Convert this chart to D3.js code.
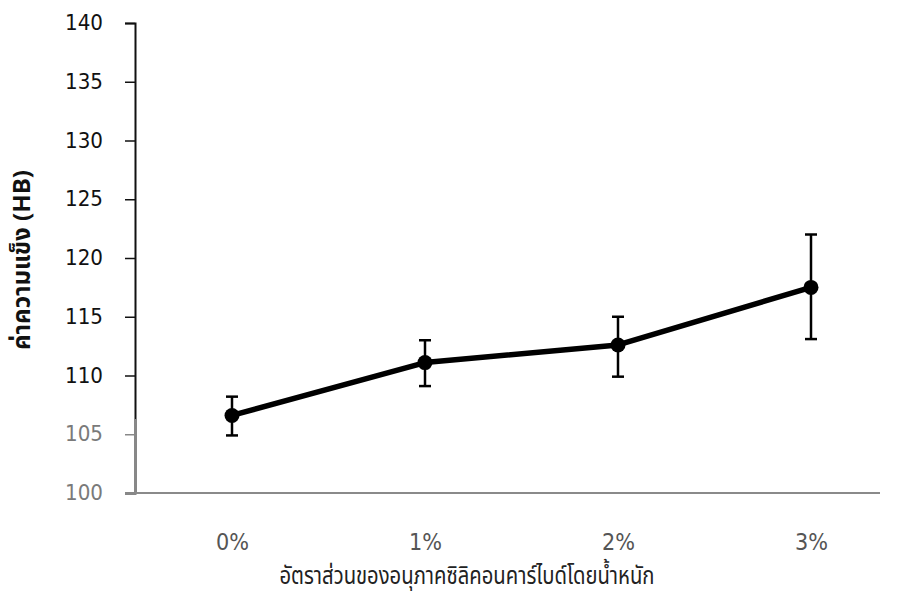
<!DOCTYPE html>
<html>
<head>
<meta charset="utf-8">
<script src="https://cdn.jsdelivr.net/npm/d3@7/dist/d3.min.js"></script>
<style>
  html, body { margin: 0; padding: 0; background: #fff; }
  svg { display: block; }
</style>
</head>
<body>
<svg id="chart" width="899" height="595"></svg>
<script>
const categories = ["0%", "1%", "2%", "3%"];
const hardness = [106.6, 111.1, 112.6, 117.5];
const errLow = [104.9, 109.1, 109.9, 113.1];
const errHigh = [108.2, 113.0, 115.0, 122.0];
const yTicks = [100, 105, 110, 115, 120, 125, 130, 135, 140];
const yTitle = "ค่าความแข็ง (HB)";
const xTitle = "อัตราส่วนของอนุภาคซิลิคอนคาร์ไบด์โดยน้ำหนัก";

(function () {
const data = categories.map((c, i) => ({ c, v: hardness[i], lo: errLow[i], hi: errHigh[i] }));

const svg = d3.select("#chart");
const mLeft = 135, mRight = 880, mTop = 23, mBottom = 493;

const x = d3.scalePoint().domain(categories).range([232, 811]);
const y = d3.scaleLinear().domain([100, 140]).range([mBottom, mTop]);

const numFont = "'DejaVu Sans', sans-serif";
const thaiFont = "'Noto Sans Thai', 'Noto Sans', 'Noto Sans CJK SC', sans-serif";

// y axis
const yAxis = svg.append("g")
  .attr("transform", `translate(${mLeft},0)`)
  .call(d3.axisLeft(y).tickValues(yTicks).tickSize(10).tickPadding(22).tickFormat(d3.format("d")));
yAxis.select(".domain").attr("stroke", "#111").attr("stroke-width", 2);
yAxis.append("line").attr("x1", 0).attr("x2", 0)
  .attr("y1", y(106.3)).attr("y2", y(100))
  .attr("stroke", "#888").attr("stroke-width", 2);
yAxis.selectAll(".tick line").attr("stroke", "#111").attr("stroke-width", 1.5);
yAxis.selectAll(".tick text")
  .attr("font-family", numFont)
  .attr("font-size", 21)
  .attr("textLength", 38)
  .attr("lengthAdjust", "spacingAndGlyphs")
  .attr("fill", d => d <= 105 ? "#7a7a7a" : "#111");
yAxis.selectAll(".tick").filter(d => d <= 105).select("line").attr("stroke", "#888");

// x axis line (no ticks)
const xAxis = svg.append("g")
  .attr("transform", `translate(0,${mBottom})`)
  .call(d3.axisBottom(x).tickSize(0).tickPadding(41));
xAxis.select(".domain").remove();
xAxis.append("line").attr("x1", mLeft).attr("x2", mRight).attr("y1", 0).attr("y2", 0)
  .attr("stroke", "#8a8a8a").attr("stroke-width", 2);
xAxis.selectAll(".tick text")
  .attr("font-family", numFont)
  .attr("font-size", 23)
  .attr("textLength", 33)
  .attr("lengthAdjust", "spacingAndGlyphs")
  .attr("fill", "#555");

// line
svg.append("path")
  .datum(data)
  .attr("fill", "none")
  .attr("stroke", "#000")
  .attr("stroke-width", 5.5)
  .attr("stroke-linejoin", "round")
  .attr("d", d3.line().x(d => x(d.c)).y(d => y(d.v)));

// error bars
const eb = svg.append("g").selectAll("g").data(data).join("g");
eb.append("line")
  .attr("x1", d => x(d.c)).attr("x2", d => x(d.c))
  .attr("y1", d => y(d.lo)).attr("y2", d => y(d.hi))
  .attr("stroke", "#000").attr("stroke-width", 2.5);
eb.append("line")
  .attr("x1", d => x(d.c) - 6).attr("x2", d => x(d.c) + 6)
  .attr("y1", d => y(d.hi)).attr("y2", d => y(d.hi))
  .attr("stroke", "#000").attr("stroke-width", 2.5);
eb.append("line")
  .attr("x1", d => x(d.c) - 6).attr("x2", d => x(d.c) + 6)
  .attr("y1", d => y(d.lo)).attr("y2", d => y(d.lo))
  .attr("stroke", "#000").attr("stroke-width", 2.5);

// markers
svg.append("g").selectAll("circle").data(data).join("circle")
  .attr("cx", d => x(d.c)).attr("cy", d => y(d.v)).attr("r", 7.5)
  .attr("fill", "#000");

// titles
svg.append("text")
  .attr("transform", `translate(30,${(mTop + mBottom) / 2 + 2}) rotate(-90)`)
  .attr("text-anchor", "middle")
  .attr("font-family", thaiFont)
  .attr("font-size", 24)
  .attr("font-weight", "bold")
  .attr("textLength", 180)
  .attr("lengthAdjust", "spacingAndGlyphs")
  .attr("fill", "#111")
  .text(yTitle);

svg.append("text")
  .attr("x", 467).attr("y", 584)
  .attr("text-anchor", "middle")
  .attr("font-family", thaiFont)
  .attr("font-size", 25)
  .attr("textLength", 375)
  .attr("lengthAdjust", "spacingAndGlyphs")
  .attr("fill", "#222")
  .text(xTitle);
})();
</script>
</body>
</html>
